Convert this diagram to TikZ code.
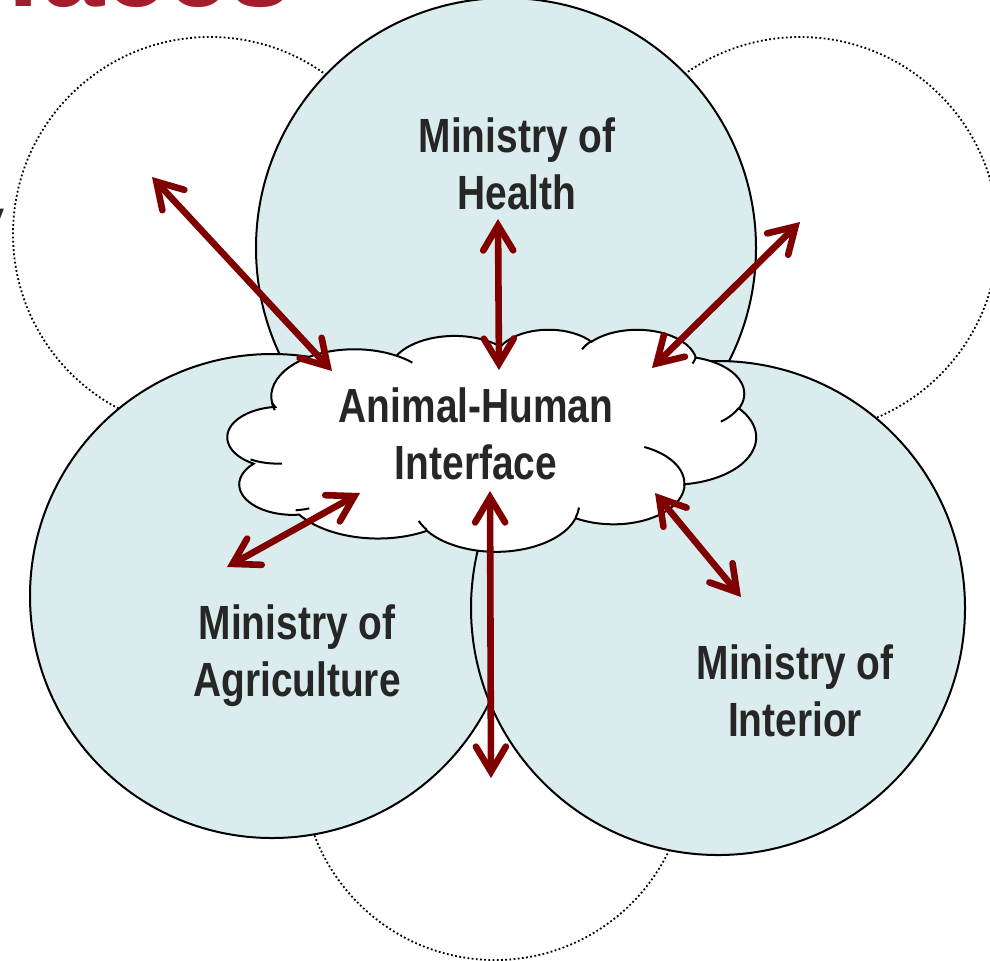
\documentclass[tikz,border=0pt]{standalone}
\usepackage{fontspec}
\setmainfont{Liberation Sans}
\newfontfamily\narrowfont{Liberation Sans}[FakeStretch=0.81]
\usetikzlibrary{arrows.meta}
\definecolor{circfill}{HTML}{DAECED}
\definecolor{arrowred}{HTML}{800000}
\definecolor{titlered}{HTML}{A51D2D}
\definecolor{textgray}{HTML}{262626}
\begin{document}
\begin{tikzpicture}[x=0.5pt,y=-0.5pt,
  declare function={pa(\a,\w,\h)=\a+mod(atan2(\w*sin(\a),\h*cos(\a))-\a+900,360)-180;},
  dotcirc/.style={circle, draw=black, fill=white, line width=0.9pt, dash pattern=on 0.9pt off 1.2pt, inner sep=0pt},
  bluecirc/.style={circle, draw=black, fill=circfill, line width=1pt, inner sep=0pt},
  label/.style={font=\narrowfont\bfseries\fontsize{24}{28.5}\selectfont, text=textgray, align=center, inner sep=0pt, anchor=north},
  tipb/.tip={Straight Barb[length=12.5pt,width=15pt,line cap=round,line join=miter]},
  biarrow/.style={draw=arrowred, line width=3.3pt, tipb-tipb}
]
\clip (0,0) rectangle (990,960);
\fill[white] (0,0) rectangle (990,960);

% title fragment and side text fragment
\node[anchor=base east, text=titlered, font=\bfseries\fontsize{56}{60}\selectfont, inner sep=0pt] (title) at (292,6) {Interfaces};
\node[anchor=base east, text=textgray, font=\fontsize{24}{28}\selectfont, inner sep=0pt] (sidey) at (5,234) {y};

% dotted circles
\node[dotcirc, minimum size=197pt] (dtl) at (210,234) {};
\node[dotcirc, minimum size=198pt] (dtr) at (800,235) {};
\node[dotcirc, minimum size=193pt] (dbot) at (495,767) {};

% ministry circles
\node[bluecirc, minimum size=250pt] (health) at (506,248) {};
\node[bluecirc, minimum size=242pt] (agri) at (272,596) {};
\node[bluecirc, minimum size=247pt] (interior) at (718,608) {};

% cloud
\begin{scope}[shift={(224,329)}, x=0.61574pt, y=-0.25694pt]
\coordinate (cloudnw) at (0,0);
\filldraw[fill=white, draw=black, line width=1pt]
 (39,143.7)
 arc[start angle={pa(-190.48748,67.53,91.90)}, end angle={pa(-190.48748+123.78053,67.53,91.90)}, x radius=67.53, y radius=91.90]
 arc[start angle={pa(-144.10238,53.33,72.67)}, end angle={pa(-144.10238+89.94523,53.33,72.67)}, x radius=53.33, y radius=72.67]
 arc[start angle={pa(-145.80792,43.65,59.45)}, end angle={pa(-145.80792+99.72302,43.65,59.45)}, x radius=43.65, y radius=59.45]
 arc[start angle={pa(-130.98607,48.57,65.95)}, end angle={pa(-130.98607+117.24173,48.57,65.95)}, x radius=48.57, y radius=65.95]
 arc[start angle={pa(-78.70888,53.33,72.73)}, end angle={pa(-78.70888+109.02692,53.33,72.73)}, x radius=53.33, y radius=72.73]
 arc[start angle={pa(-46.26725,67.75,92.20)}, end angle={pa(-46.26725+130.269,67.75,92.20)}, x radius=67.75, y radius=92.20]
 arc[start angle={pa(0.62502,57.85,78.67)}, end angle={pa(0.62502+114.03333,57.85,78.67)}, x radius=57.85, y radius=78.67]
 arc[start angle={pa(22.4516,67.52,92.15)}, end angle={pa(22.4516+115.17255,67.52,92.15)}, x radius=67.52, y radius=92.15]
 arc[start angle={pa(66.24263,77.20,105.43)}, end angle={pa(66.24263+71.09683,77.20,105.43)}, x radius=77.20, y radius=105.43]
 arc[start angle={pa(-274.94208,43.60,59.18)}, end angle={pa(-274.94208+146.73557,43.60,59.18)}, x radius=43.60, y radius=59.18]
 arc[start angle={pa(-246.8285,43.45,59.45)}, end angle={pa(-246.8285+152.51885,43.45,59.45)}, x radius=43.45, y radius=59.45]
 -- cycle;
\draw[black, line width=1pt]
 (46.93,261.77) arc[start angle={pa(86.742,43.45,59.45)}, end angle={pa(86.742+26.4295,43.45,59.45)}, x radius=43.45, y radius=59.45]
 (69.28,348.99) arc[start angle={pa(73.6105,43.60,59.18)}, end angle={pa(73.6105+11.4475,43.60,59.18)}, x radius=43.60, y radius=59.18]
 (164.78,390.90) arc[start angle={pa(137.6242,67.52,92.15)}, end angle={pa(137.6242+14.0811,67.52,92.15)}, x radius=67.52, y radius=92.15]
 (288.27,347.51) arc[start angle={pa(6.4533,67.52,92.15)}, end angle={pa(6.4533+15.9984,67.52,92.15)}, x radius=67.52, y radius=92.15]
 (341.29,229.54) arc[start angle={pa(-70.2924,57.85,78.67)}, end angle={pa(-70.2924+74.8645,57.85,78.67)}, x radius=57.85, y radius=78.67]
 (417.98,153.54) arc[start angle={pa(30.3180,53.33,72.73)}, end angle={pa(30.3180+27.7515,53.33,72.73)}, x radius=53.33, y radius=72.73]
 (383.24,54.26) arc[start angle={pa(13.7443,48.57,65.95)}, end angle={pa(13.7443+14.8589,48.57,65.95)}, x radius=48.57, y radius=65.95]
 (290.78,39.52) arc[start angle={pa(-149.1815,48.57,65.95)}, end angle={pa(-149.1815+18.1954,48.57,65.95)}, x radius=48.57, y radius=65.95]
 (221.41,47.20) arc[start angle={pa(-163.4943,43.65,59.45)}, end angle={pa(-163.4943+17.6864,43.65,59.45)}, x radius=43.65, y radius=59.45]
 (140.00,51.92) arc[start angle={pa(-66.7070,67.53,91.90)}, end angle={pa(-66.7070+12.3194,67.53,91.90)}, x radius=67.53, y radius=91.90]
 (41.27,157.89) arc[start angle={pa(157.6544,67.53,91.90)}, end angle={pa(157.6544+11.8582,67.53,91.90)}, x radius=67.53, y radius=91.90];
\end{scope}

% arrow end points
\coordinate (a1s) at (152,177);  \coordinate (a1e) at (332,371);
\coordinate (a2s) at (498,219);  \coordinate (a2e) at (499,370);
\coordinate (a3s) at (800,222);  \coordinate (a3e) at (652,368);
\coordinate (a4s) at (227,567);  \coordinate (a4e) at (360,493);
\coordinate (a5s) at (490,491);  \coordinate (a5e) at (491,778);
\coordinate (a6s) at (655,493);  \coordinate (a6e) at (741,597);

\draw[biarrow] (a1s) -- (a1e);
\draw[biarrow] (a2s) -- (a2e);
\draw[biarrow] (a3s) -- (a3e);
\draw[biarrow] (a4s) -- (a4e);
\draw[biarrow] (a5s) -- (a5e);
\draw[biarrow] (a6s) -- (a6e);

% labels
\node[label] (thealth) at (517,117) {Ministry of\\Health};
\node[label] (tcloud) at (476,387) {Animal-Human\\Interface};
\node[label] (tagri) at (297,604) {Ministry of\\Agriculture};
\node[label] (tint) at (795,644) {Ministry of\\Interior};
\end{tikzpicture}
\end{document}
